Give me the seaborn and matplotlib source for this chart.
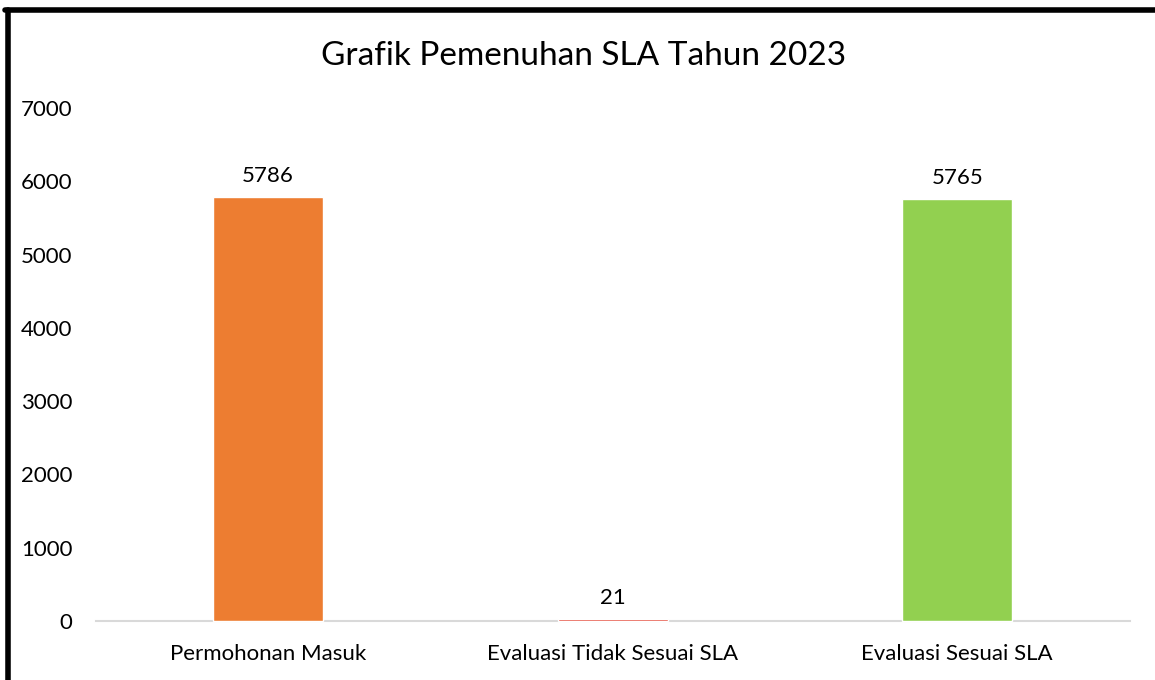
import matplotlib
matplotlib.use("Agg")
import matplotlib.pyplot as plt
import seaborn as sns
import pandas as pd
from matplotlib.lines import Line2D

# data
kategori = ["Permohonan Masuk", "Evaluasi Tidak Sesuai SLA", "Evaluasi Sesuai SLA"]
jumlah = [5786, 21, 5765]
warna = ["#ED7D31", "#E0301E", "#92D050"]
y_ticks = [0, 1000, 2000, 3000, 4000, 5000, 6000, 7000]

sns.set_style("white")
plt.rcParams['font.family'] = ['Lato', 'DejaVu Sans']

df = pd.DataFrame({'kategori': kategori, 'jumlah': jumlah})

fig = plt.figure(figsize=(11.55, 6.8), dpi=100)
ax = fig.add_axes([0.083, 0.087, 0.895, 0.754])

sns.barplot(data=df, x='kategori', y='jumlah', hue='kategori', palette=warna,
            width=0.32, legend=False, ax=ax, saturation=1)
for p in ax.patches:
   p.set_zorder(5)
   p.set_clip_on(False)

for i, v in enumerate(jumlah):
   ax.text(i, v + 150, str(v), ha='center', va='bottom', fontsize=16, color='#000000')

ax.set_xlim(-0.5, 2.5)
ax.set_ylim(0, 7000)
ax.set_yticks(y_ticks)
ax.set_yticklabels([str(t) for t in y_ticks])
ax.tick_params(axis='both', length=0, labelsize=16, colors='#000000')
ax.tick_params(axis='y', pad=17)
ax.tick_params(axis='x', pad=17)
ax.set_xlabel('')
ax.set_ylabel('')
for s in ['left', 'right', 'top']:
   ax.spines[s].set_visible(False)
ax.spines['bottom'].set_color('#D9D9D9')
ax.spines['bottom'].set_linewidth(1.5)
ax.spines['bottom'].set_zorder(1)

fig.text(0.505, 0.918, 'Grafik Pemenuhan SLA Tahun 2023', ha='center', va='center',
         fontsize=24, color='#000000')

# bingkai hitam kiri dan atas
fig.add_artist(Line2D([0.0066, 0.0066], [0.0, 0.985], transform=fig.transFigure,
                      color='black', linewidth=4))
fig.add_artist(Line2D([0.0045, 1.0], [0.985, 0.985], transform=fig.transFigure,
                      color='black', linewidth=4))

fig.savefig('out.png', dpi=100)
